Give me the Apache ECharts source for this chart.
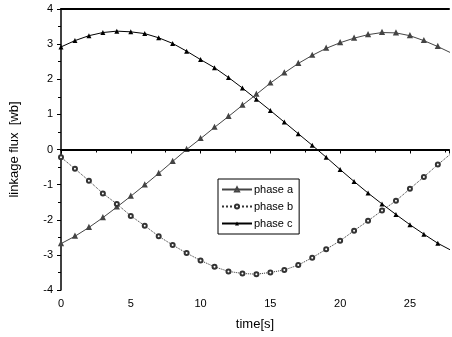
<!DOCTYPE html>
<html>
<head>
<meta charset="utf-8">
<script src="https://cdn.jsdelivr.net/npm/echarts@6/dist/echarts.min.js"></script>
<style>
  html, body { margin: 0; padding: 0; background: #fff; }
  #chart { width: 452px; height: 337px; }
</style>
</head>
<body>
<div id="chart"></div>
<script>
// time samples (s), one marker per second
var times = [0, 1, 2, 3, 4, 5, 6, 7, 8, 9, 10, 11, 12, 13, 14, 15, 16, 17, 18, 19, 20, 21, 22, 23, 24, 25, 26, 27, 28];

// linkage flux [wb]
var phaseA = [-2.68, -2.47, -2.22, -1.94, -1.64, -1.33, -1.01, -0.68, -0.34, 0.0, 0.31, 0.63, 0.94, 1.26, 1.57, 1.89, 2.18, 2.45, 2.68, 2.88, 3.04, 3.17, 3.27, 3.33, 3.32, 3.24, 3.10, 2.93, 2.74];
var phaseB = [-0.22, -0.55, -0.89, -1.25, -1.55, -1.89, -2.17, -2.47, -2.72, -2.95, -3.16, -3.34, -3.47, -3.53, -3.55, -3.50, -3.43, -3.29, -3.08, -2.84, -2.60, -2.31, -2.03, -1.74, -1.46, -1.12, -0.78, -0.43, -0.10];
var phaseC = [2.92, 3.10, 3.24, 3.33, 3.37, 3.35, 3.30, 3.18, 3.02, 2.80, 2.56, 2.33, 2.05, 1.75, 1.43, 1.11, 0.78, 0.45, 0.12, -0.22, -0.57, -0.91, -1.24, -1.55, -1.85, -2.14, -2.41, -2.67, -2.88];

var names = ['phase a', 'phase b', 'phase c'];
var xTicks = [0, 5, 10, 15, 20, 25];

function pairs(vals) {
  return times.map(function (t, i) { return [t, vals[i]]; });
}

var font = 'Liberation Sans, Arial, sans-serif';
var chart = echarts.init(document.getElementById('chart'), null, { renderer: 'canvas' });

var option = {
  backgroundColor: '#fff',
  animation: false,
  textStyle: { fontFamily: font },
  grid: { left: 60, right: 0, top: 9, bottom: 47 },
  legend: {
    data: names,
    orient: 'vertical',
    left: 218,
    top: 179,
    itemWidth: 30,
    itemHeight: 5,
    itemGap: 6,
    padding: [5, 6, 5, 3],
    borderColor: '#000',
    borderWidth: 1,
    textStyle: { fontSize: 11, color: '#000', fontFamily: font, padding: [0, 0, 0, -3] }
  },
  xAxis: [{
    type: 'value',
    min: 0,
    max: 27.8,
    interval: 5,
    name: 'time[s]',
    nameLocation: 'middle',
    nameGap: 28,
    nameTextStyle: { fontSize: 13, color: '#000' },
    axisLine: { lineStyle: { color: '#000', width: 2 } },
    axisTick: { length: 4, lineStyle: { color: '#000' } },
    minorTick: { show: true, splitNumber: 2, length: 3, lineStyle: { color: '#000' } },
    splitLine: { show: false },
    axisLabel: {
      fontSize: 11, color: '#000', margin: 8,
      formatter: function (v) { return xTicks.indexOf(v) >= 0 ? String(v) : ''; }
    }
  }, {
    type: 'value',
    position: 'top',
    min: 0,
    max: 27.8,
    axisLine: { show: true, lineStyle: { color: '#000', width: 2 } },
    axisTick: { show: false },
    axisLabel: { show: false },
    splitLine: { show: false }
  }],
  yAxis: {
    type: 'value',
    min: -4,
    max: 4,
    interval: 1,
    name: 'linkage flux  [wb]',
    nameLocation: 'middle',
    nameGap: 40,
    nameTextStyle: { fontSize: 13, color: '#000' },
    axisLine: { show: true, lineStyle: { color: '#000', width: 1.5 } },
    axisTick: { length: 4, lineStyle: { color: '#000' } },
    minorTick: { show: true, splitNumber: 2, length: 3, lineStyle: { color: '#000' } },
    splitLine: { show: false },
    axisLabel: { fontSize: 11, color: '#000', margin: 8 }
  },
  series: [
    {
      name: names[0],
      type: 'line',
      data: pairs(phaseA),
      symbol: 'emptyTriangle',
      symbolSize: 3,
      itemStyle: { color: '#444', borderColor: '#444' },
      lineStyle: { color: '#444', width: 1 }
    },
    {
      name: names[1],
      type: 'line',
      data: pairs(phaseB),
      symbol: 'emptyCircle',
      symbolSize: 4,
      itemStyle: { color: '#333', borderColor: '#333', borderWidth: 1 },
      lineStyle: { color: '#333', width: 1, type: 'dotted' }
    },
    {
      name: names[2],
      type: 'line',
      data: pairs(phaseC),
      symbol: 'triangle',
      symbolSize: 5,
      itemStyle: { color: '#000' },
      lineStyle: { color: '#000', width: 1 },
      markLine: {
        silent: true,
        symbol: 'none',
        label: { show: false },
        lineStyle: { color: '#000', width: 2, type: 'solid' },
        data: [{ yAxis: 0 }]
      }
    }
  ]
};

chart.setOption(option);
</script>
</body>
</html>
